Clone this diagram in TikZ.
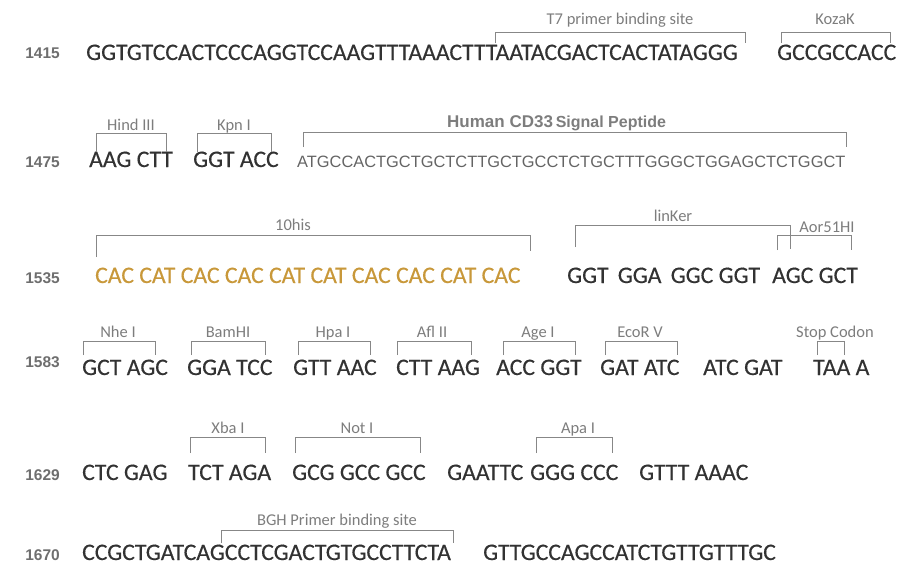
\documentclass[tikz,border=0pt]{standalone}
\usepackage{fontspec}
\setmainfont{Carlito}
\newfontfamily\seqfont[FakeBold=0.35]{Carlito}
\newfontfamily\arialfont{Liberation Sans}
\definecolor{seqgrey}{RGB}{50,50,50}
\definecolor{labgrey}{RGB}{125,125,125}
\definecolor{brkgrey}{RGB}{135,135,135}
\definecolor{numgrey}{RGB}{110,110,110}
\definecolor{siggrey}{RGB}{100,100,100}
\definecolor{hisgold}{RGB}{200,152,58}
\tikzset{
  seq/.style={anchor=base west, inner sep=0pt, text=seqgrey, font=\seqfont\fontsize{23.7}{28}\selectfont},
  num/.style={anchor=base east, inner sep=0pt, text=numgrey, font=\arialfont\bfseries\fontsize{15.5}{20}\selectfont},
  site/.style={anchor=base, inner sep=0pt, text=labgrey, font=\fontsize{16.5}{20}\selectfont},
  brk/.style={draw=brkgrey, line width=0.8pt},
}
\begin{document}
\begin{tikzpicture}[x=1pt, y=-1pt]
      \useasboundingbox (0,0) rectangle (899,565);
      % row numbers
      \path
        (60,58) node[num] (n1){1415}
        (60,167) node[num] (n2){1475}
        (60,283) node[num] (n3){1535}
        (60,367) node[num] (n4){1583}
        (60,480) node[num] (n5){1629}
        (60,560) node[num] (n6){1670};
      % sequences
      \path
        (86,60) node[seq] (t7){GGTGTCCACTCCCAGGTCCAAGTTTAAACTTTAATACGACTCACTATAGGG}
        (777,60) node[seq] (koz){GCCGCCACC}
        (89,167) node[seq] (hind){AAG CTT}
        (193,167) node[seq] (kpn){GGT ACC}
        (297,167) node[seq, text=siggrey, font=\arialfont\fontsize{16.4}{20}\selectfont] (sig){ATGCCACTGCTGCTCTTGCTGCCTCTGCTTTGGGCTGGAGCTCTGGCT}
        (95,283) node[seq, text=hisgold] (his){CAC CAT CAC CAC CAT CAT CAC CAC CAT CAC}
        (567,283) node[seq] (lnk){GGT\, GGA\, GGC GGT}
        (772,283) node[seq] (aor){AGC GCT}
        (82,375) node[seq] (nhe){GCT AGC}
        (187,375) node[seq] (bam){GGA TCC}
        (293,375) node[seq] (hpa){GTT AAC}
        (396,375) node[seq] (afl){CTT AAG}
        (496,375) node[seq] (age){ACC GGT}
        (600,375) node[seq] (ecov){GAT ATC}
        (703,375) node[seq] (atc){ATC GAT}
        (813,375) node[seq] (stop){TAA A}
        (82,480) node[seq] (xho){CTC GAG}
        (188,480) node[seq] (xba){TCT AGA}
        (292,480) node[seq] (noti){GCG GCC GCC}
        (447,480) node[seq] (ecoi){GAATTC}
        (530,480) node[seq] (apa){GGG CCC}
        (639,480) node[seq] (pme){GTTT AAAC}
        (82,560) node[seq] (bgh){CCGCTGATCAGCCTCGACTGTGCCTTCTA}
        (483,560) node[seq] (tail){GTTGCCAGCCATCTGTTGTTTGC};
      % site labels
      \path
        (620,24) node[site] (lt7){T7 primer binding site}
        (835,24) node[site] (lkoz){KozaK}
        (131,130) node[site] (lhind){Hind III}
        (234,130) node[site] (lkpn){Kpn I}
        (447,127) node[site, anchor=base west, font=\arialfont\bfseries] (lsig){{\fontsize{17}{20}\selectfont Human CD33} {\fontsize{16}{20}\selectfont Signal Peptide}}
        (293,230) node[site] (lhis){10his}
        (673,221) node[site] (llnk){linKer}
        (827,232) node[site] (laor){Aor51HI}
        (118,337) node[site] (lnhe){Nhe I}
        (228,337) node[site] (lbam){BamHI}
        (333,337) node[site] (lhpa){Hpa I}
        (432,337) node[site] (lafl){Afl II}
        (538,337) node[site] (lage){Age I}
        (640,337) node[site] (lecov){EcoR V}
        (835,337) node[site] (lstop){Stop Codon}
        (228,433) node[site] (lxba){Xba I}
        (357,433) node[site] (lnoti){Not I}
        (578,433) node[site] (lapa){Apa I}
        (337,525) node[site] (lbgh){BGH Primer binding site};
      % bracket corners
      \coordinate (t7a) at (495,32);   \coordinate (t7b) at (745,32);
      \coordinate (koza) at (781,32);  \coordinate (kozb) at (890,32);
      \coordinate (hinda) at (96,133); \coordinate (hindb) at (166,133);
      \coordinate (kpna) at (197,133); \coordinate (kpnb) at (271,133);
      \coordinate (siga) at (303,132); \coordinate (sigb) at (846,132);
      \coordinate (hisa) at (96,235);  \coordinate (hisb) at (530,235);
      \coordinate (lnka) at (575,225); \coordinate (lnkb) at (790,225);
      \coordinate (aora) at (777,235); \coordinate (aorb) at (851,235);
      \coordinate (nhea) at (83,341);  \coordinate (nheb) at (155,341);
      \coordinate (bama) at (191,341); \coordinate (bamb) at (265,341);
      \coordinate (hpaa) at (298,341); \coordinate (hpab) at (370,341);
      \coordinate (afla) at (397,341); \coordinate (aflb) at (471,341);
      \coordinate (agea) at (503,341); \coordinate (ageb) at (575,341);
      \coordinate (ecova) at (605,341); \coordinate (ecovb) at (677,341);
      \coordinate (stopa) at (817,341); \coordinate (stopb) at (844,341);
      \coordinate (xbaa) at (190,437); \coordinate (xbab) at (265,437);
      \coordinate (notia) at (295,437); \coordinate (notib) at (420,437);
      \coordinate (apaa) at (536,437); \coordinate (apab) at (612,437);
      \coordinate (bgha) at (221,530); \coordinate (bghb) at (453,530);
      \begin{scope}[brk]
        \draw (t7a) ++(0,11) -- (t7a) -- (t7b) -- ++(0,11);
        \draw (koza) ++(0,11) -- (koza) -- (kozb) -- ++(0,11);
        \draw (hinda) ++(0,19) -- (hinda) -- (hindb) -- ++(0,19);
        \draw (kpna) ++(0,19) -- (kpna) -- (kpnb) -- ++(0,19);
        \draw (siga) ++(0,15) -- (siga) -- (sigb) -- ++(0,15);
        \draw (hisa) ++(0,22) -- (hisa) -- (hisb) -- ++(0,16);
        \draw (lnka) ++(0,22) -- (lnka) -- (lnkb) -- ++(0,24);
        \draw (aora) ++(0,15) -- (aora) -- (aorb) -- ++(0,15);
        \draw (nhea) ++(0,14) -- (nhea) -- (nheb) -- ++(0,14);
        \draw (bama) ++(0,14) -- (bama) -- (bamb) -- ++(0,14);
        \draw (hpaa) ++(0,14) -- (hpaa) -- (hpab) -- ++(0,14);
        \draw (afla) ++(0,14) -- (afla) -- (aflb) -- ++(0,14);
        \draw (agea) ++(0,14) -- (agea) -- (ageb) -- ++(0,14);
        \draw (ecova) ++(0,14) -- (ecova) -- (ecovb) -- ++(0,14);
        \draw (stopa) ++(0,14) -- (stopa) -- (stopb) -- ++(0,14);
        \draw (xbaa) ++(0,16) -- (xbaa) -- (xbab) -- ++(0,16);
        \draw (notia) ++(0,16) -- (notia) -- (notib) -- ++(0,16);
        \draw (apaa) ++(0,16) -- (apaa) -- (apab) -- ++(0,16);
        \draw (bgha) ++(0,13) -- (bgha) -- (bghb) -- ++(0,13);
      \end{scope}
    \end{tikzpicture}
\end{document}
